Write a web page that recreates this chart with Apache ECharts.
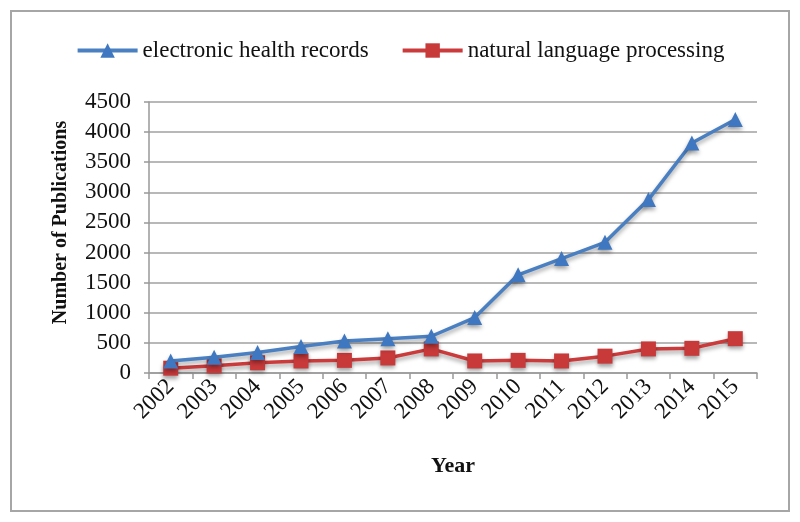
<!DOCTYPE html>
<html>
<head>
<meta charset="utf-8">
<script src="https://cdn.jsdelivr.net/npm/echarts@6/dist/echarts.min.js"></script>
<style>
html,body{margin:0;padding:0;background:#fff;}
#frame{position:absolute;left:10px;top:10px;width:780px;height:502px;border:2px solid #a6a6a6;box-sizing:border-box;}
#chart{position:absolute;left:0;top:0;width:800px;height:522px;}
</style>
</head>
<body>
<div id="frame"></div>
<div id="chart"></div>
<script>
var years = ['2002','2003','2004','2005','2006','2007','2008','2009','2010','2011','2012','2013','2014','2015'];
var ehr = [200, 260, 340, 440, 530, 570, 610, 920, 1630, 1900, 2170, 2880, 3820, 4210];
var nlp = [80, 120, 170, 200, 210, 250, 400, 200, 210, 200, 280, 400, 410, 570];
var yTicks = {min: 0, max: 4500, interval: 500};

var FONT = '"Liberation Serif", "Times New Roman", serif';
var chart = echarts.init(document.getElementById('chart'), null, {renderer: 'canvas'});
var shadow = {shadowColor: 'rgba(0,0,0,0.35)', shadowBlur: 4, shadowOffsetY: 3};
chart.setOption({
  animation: false,
  textStyle: {fontFamily: FONT},
  legend: {
    top: 34,
    left: 'center',
    itemWidth: 60,
    itemHeight: 18,
    itemGap: 32,
    lineStyle: {width: 4},
    textStyle: {fontFamily: FONT, fontSize: 23, color: '#111'},
    data: ['electronic health records', 'natural language processing']
  },
  grid: {left: 149, right: 43, top: 102, bottom: 149},
  xAxis: {
    type: 'category',
    data: years,
    boundaryGap: true,
    name: 'Year',
    nameLocation: 'middle',
    nameGap: 82,
    nameTextStyle: {fontFamily: FONT, fontSize: 22, fontWeight: 'bold', color: '#111'},
    axisLine: {lineStyle: {color: '#999', width: 1.5}},
    axisTick: {show: true, alignWithLabel: false, length: 6, lineStyle: {color: '#999', width: 1.5}},
    axisLabel: {rotate: 45, margin: 10, fontFamily: FONT, fontSize: 23, color: '#111'}
  },
  yAxis: {
    type: 'value',
    min: yTicks.min,
    max: yTicks.max,
    interval: yTicks.interval,
    name: 'Number of Publications',
    nameLocation: 'middle',
    nameGap: 78,
    nameRotate: 90,
    nameTextStyle: {fontFamily: FONT, fontSize: 20, fontWeight: 'bold', color: '#111', padding: [0, 0, 0, 30]},
    axisLine: {show: true, lineStyle: {color: '#999', width: 1.5}},
    axisTick: {show: true, length: 5, lineStyle: {color: '#999', width: 1.5}},
    splitLine: {lineStyle: {color: '#a0a0a0', width: 1.5}},
    axisLabel: {margin: 18, fontFamily: FONT, fontSize: 23, color: '#111', formatter: function (v) { return String(v); }}
  },
  series: [
    {
      name: 'electronic health records',
      type: 'line',
      data: ehr,
      symbol: 'triangle',
      symbolSize: 15,
      lineStyle: Object.assign({color: '#4a7fc1', width: 3.5}, shadow),
      itemStyle: Object.assign({color: '#3f78c0'}, shadow),
      z: 3
    },
    {
      name: 'natural language processing',
      type: 'line',
      data: nlp,
      symbol: 'rect',
      symbolSize: 15,
      lineStyle: Object.assign({color: '#cc3b3b', width: 3.5}, shadow),
      itemStyle: Object.assign({color: '#c8393a'}, shadow),
      z: 2
    }
  ]
});
</script>
</body>
</html>
